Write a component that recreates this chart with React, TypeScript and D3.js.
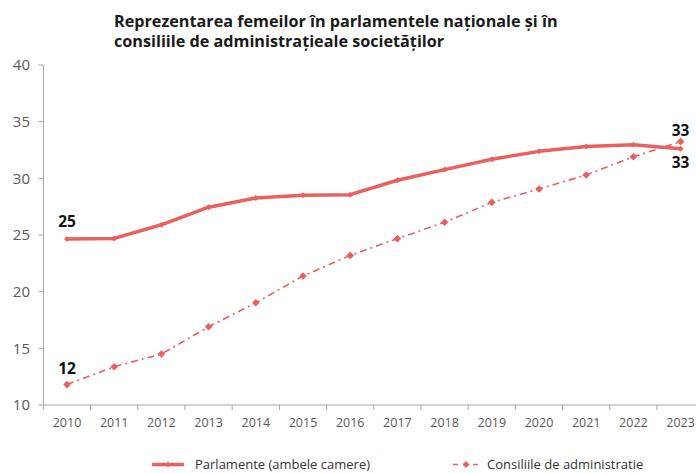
import React from "react";
import * as d3 from "d3";

const years = ["2010","2011","2012","2013","2014","2015","2016","2017","2018","2019","2020","2021","2022","2023"];
const parlamente = [24.65,24.7,25.9,27.45,28.27,28.5,28.56,29.83,30.77,31.68,32.38,32.8,32.97,32.62];
const consilii = [11.8,13.38,14.5,16.9,19.02,21.38,23.2,24.68,26.12,27.88,29.06,30.3,31.9,33.24];
const yTicks = [10,15,20,25,30,35,40];
const titleLines = ["Reprezentarea femeilor în parlamentele naționale și în", "consiliile de administrațieale societăților"];
const seriesNames = ["Parlamente (ambele camere)", "Consiliile de administratie"];
const labels = [
  { series: 0, index: 0, text: "25", dy: -12 },
  { series: 1, index: 0, text: "12", dy: -11 },
  { series: 1, index: 13, text: "33", dy: -6 },
  { series: 0, index: 13, text: "33", dy: 19 },
];

const W = 696, H = 473;
const color = "#E8605F";
const font = "'Open Sans', 'Noto Sans', sans-serif";

export default function App() {
  const left = 43.4, bw = 47.2;
  const x = d3.scaleBand<string>().domain(years).range([left, left + bw * years.length]).padding(0);
  const y = d3.scaleLinear().domain([10, 40]).range([405, 65]);
  const cx = (yr: string) => (x(yr) as number) + x.bandwidth() / 2;
  const line = d3.line<number>().x((_, i) => cx(years[i])).y((v) => y(v));
  const diamond = (px: number, py: number, r: number) => `M${px},${py - r}L${px + r},${py}L${px},${py + r}L${px - r},${py}Z`;
  const series = [parlamente, consilii];
  const legY = 464.5;

  return (
    <svg width={W} height={H} style={{ position: "absolute", left: 0, top: 0, background: "#fff" }} fontFamily={font}>
      {titleLines.map((t, i) => (
        <text key={i} x={114} y={26.5 + i * 20} fontSize={16.2} fontWeight={700} fill="#1a1a1a">{t}</text>
      ))}
      {/* Y axis */}
      <line x1={left} x2={left} y1={y(40)} y2={y(10)} stroke="#a6a6a6" strokeWidth={1} />
      {yTicks.map((t) => (
        <g key={t}>
          <line x1={left - 5} x2={left} y1={y(t)} y2={y(t)} stroke="#a6a6a6" />
          <text x={30} y={y(t)} dy="0.35em" textAnchor="end" fontSize={15} fill="#595959">{t}</text>
        </g>
      ))}
      {/* X axis */}
      <line x1={left} x2={W} y1={y(10)} y2={y(10)} stroke="#a6a6a6" />
      {years.map((yr) => (
        <g key={yr}>
          <line x1={x(yr) as number} x2={x(yr) as number} y1={y(10)} y2={y(10) + 5} stroke="#a6a6a6" />
          <text x={cx(yr)} y={427} textAnchor="middle" fontSize={12.5} fill="#595959">{yr}</text>
        </g>
      ))}
      {/* Lines */}
      <path d={line(consilii) as string} fill="none" stroke={color} strokeWidth={1.6} strokeDasharray="7 4 2 4" />
      <path d={line(parlamente) as string} fill="none" stroke={color} strokeWidth={3.5} strokeLinejoin="round" />
      {parlamente.map((v, i) => (
        <path key={"p" + i} d={diamond(cx(years[i]), y(v), 3)} fill={color} />
      ))}
      {consilii.map((v, i) => (
        <path key={"c" + i} d={diamond(cx(years[i]), y(v), 3.8)} fill={color} />
      ))}
      {labels.map((l, i) => (
        <text key={i} x={cx(years[l.index])} y={y(series[l.series][l.index]) + l.dy} textAnchor="middle" fontSize={15.5} fontWeight={700} fill="#111">{l.text}</text>
      ))}
      {/* Legend */}
      <line x1={152} x2={184} y1={legY} y2={legY} stroke={color} strokeWidth={3.5} />
      <path d={diamond(168, legY, 3)} fill={color} />
      <text x={195} y={legY + 4.5} fontSize={13} fill="#333">{seriesNames[0]}</text>
      <line x1={453} x2={479} y1={legY} y2={legY} stroke={color} strokeWidth={1.6} strokeDasharray="5 5" />
      <path d={diamond(466, legY, 3.5)} fill={color} />
      <text x={487} y={legY + 4.5} fontSize={13} fill="#333">{seriesNames[1]}</text>
    </svg>
  );
}
